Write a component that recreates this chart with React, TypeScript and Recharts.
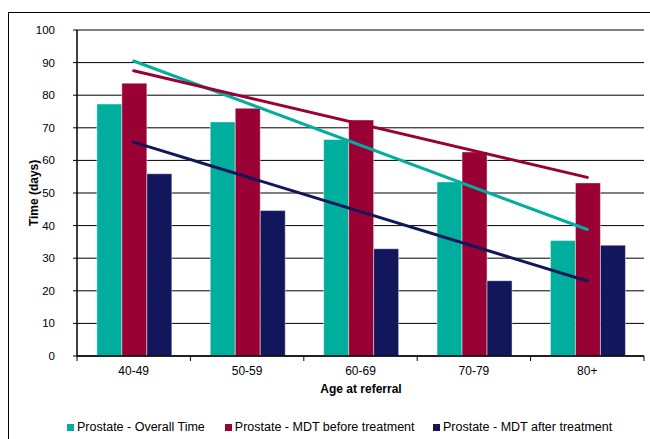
import {
	Bar,
	CartesianGrid,
	ComposedChart,
	Legend,
	Line,
	XAxis,
	YAxis,
} from "recharts";

const categories = ["40-49", "50-59", "60-69", "70-79", "80+"];
const overallTime = [77.3, 71.8, 66.4, 53.4, 35.4];
const mdtBefore = [83.7, 76.0, 72.4, 62.6, 53.1];
const mdtAfter = [55.9, 44.6, 32.9, 23.1, 34.0];

// trend lines: only the end points are known, the middle is bridged
const overallTrend = [90.5, null, null, null, 38.8];
const beforeTrend = [87.5, null, null, null, 54.8];
const afterTrend = [65.6, null, null, null, 23.0];

const yTicks = [0, 10, 20, 30, 40, 50, 60, 70, 80, 90, 100];

const TEAL = "#00ae9d";
const CRIMSON = "#990033";
const NAVY = "#12165a";
const FONT = "'Liberation Sans', Arial, sans-serif";

const series = [
	{ key: "overall", name: "Prostate - Overall Time", color: TEAL },
	{ key: "before", name: "Prostate - MDT before treatment", color: CRIMSON },
	{ key: "after", name: "Prostate - MDT after treatment", color: NAVY },
];

const data = categories.map((age, i) => ({
	age,
	overall: overallTime[i],
	before: mdtBefore[i],
	after: mdtAfter[i],
	overallTrend: overallTrend[i],
	beforeTrend: beforeTrend[i],
	afterTrend: afterTrend[i],
}));

const WIDTH = 650;
const HEIGHT = 439;
const PLOT_LEFT = 77;
const PLOT_RIGHT = 644;
const HALF_BAND = (PLOT_RIGHT - PLOT_LEFT) / categories.length / 2;

function AgeTick({ x, y, payload, index }: any) {
	const last = index === categories.length - 1;
	return (
		<g>
			<line x1={x - HALF_BAND} x2={x - HALF_BAND} y1={y} y2={y + 5} stroke="#000" />
			{last && (
				<line x1={x + HALF_BAND} x2={x + HALF_BAND} y1={y} y2={y + 5} stroke="#000" />
			)}
			<text x={x} y={y + 19} textAnchor="middle" fontSize={12} fontFamily={FONT} fill="#000">
				{payload.value}
			</text>
		</g>
	);
}

function LegendBox() {
	const widths = [160, 211, 220];
	return (
		<div style={{ display: "flex", paddingLeft: 67, fontFamily: FONT, fontSize: 12.5, color: "#000" }}>
			{series.map((s, i) => (
				<div key={s.key} style={{ width: widths[i], display: "flex", alignItems: "center" }}>
					<span style={{ width: 7, height: 7, background: s.color, marginRight: 3, display: "inline-block" }} />
					<span>{s.name}</span>
				</div>
			))}
		</div>
	);
}

export default function App() {
	return (
		<div style={{ position: "absolute", left: 0, top: 0, width: WIDTH, height: HEIGHT, overflow: "hidden", background: "#fff" }}>
			<div
				style={{
					position: "absolute",
					left: 8,
					top: 12,
					width: WIDTH,
					height: HEIGHT,
					borderLeft: "1px solid #000",
					borderTop: "1px solid #000",
				}}
			/>
			<div style={{ position: "absolute", left: 0, top: 0 }}>
				<ComposedChart
					width={WIDTH}
					height={HEIGHT}
					data={data}
					margin={{ top: 30, right: WIDTH - PLOT_RIGHT, left: 37, bottom: 53 }}
					barCategoryGap="17.5%"
					barGap={0}
				>
					<CartesianGrid vertical={false} stroke="#000" />
					<XAxis
						dataKey="age"
						height={30}
						tickSize={0}
						tickMargin={0}
						tickLine={false}
						axisLine={{ stroke: "#000", strokeWidth: 1.5 }}
						tick={<AgeTick />}
						interval={0}
						label={() => (
							<text x={361} y={393} textAnchor="middle" fontSize={12} fontWeight="bold" fontFamily={FONT} fill="#000">
								Age at referral
							</text>
						)}
					/>
					<XAxis xAxisId="top" orientation="top" dataKey="age" height={0} tick={false} tickLine={false} axisLine={{ stroke: "#000", strokeWidth: 2 }} />
					<YAxis
						width={40}
						domain={[0, 100]}
						ticks={yTicks}
						interval={0}
						tickSize={4}
						tickMargin={18}
						tickLine={{ stroke: "#000" }}
						axisLine={{ stroke: "#000", strokeWidth: 1.5 }}
						tick={{ fontSize: 11.5, fontFamily: FONT, fill: "#000" }}
						label={() => (
							<text
								x={38}
								y={193}
								transform="rotate(-90 38 193)"
								textAnchor="middle"
								fontSize={12}
								fontWeight="bold"
								fontFamily={FONT}
								fill="#000"
							>
								Time (days)
							</text>
						)}
					/>
					<YAxis yAxisId="right" orientation="right" width={0} domain={[0, 100]} tick={false} tickLine={false} axisLine={{ stroke: "#000", strokeWidth: 1.5 }} />
					{series.map((s) => (
						<Bar key={s.key} dataKey={s.key} name={s.name} fill={s.color} stroke="rgba(255,255,255,0.45)" strokeWidth={1} isAnimationActive={false} />
					))}
					{series.map((s) => (
						<Line
							key={s.key + "Trend"}
							dataKey={s.key + "Trend"}
							stroke={s.color}
							strokeWidth={3}
							strokeLinecap="round"
							dot={false}
							activeDot={false}
							connectNulls
							legendType="none"
							isAnimationActive={false}
						/>
					))}
					<Legend
						verticalAlign="middle"
						align="center"
						layout="horizontal"
						wrapperStyle={{ top: 420, left: 0, width: WIDTH }}
						content={<LegendBox />}
					/>
				</ComposedChart>
			</div>
		</div>
	);
}
